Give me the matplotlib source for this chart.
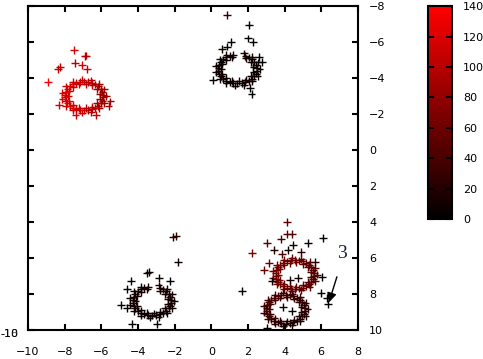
import matplotlib
matplotlib.use("Agg")
import matplotlib.pyplot as plt
from matplotlib.colors import LinearSegmentedColormap, Normalize

# red ring (upper left) + stray points
red_x = [-5.73, -6.07, -5.84, -6.22, -6.13, -6.49, -6.57, -6.85, -7.07, -7.22,
         -7.54, -7.54, -7.92, -7.76, -8.12, -7.83, -8.12, -7.76, -7.92, -7.54,
         -7.54, -7.22, -7.07, -6.85, -6.57, -6.49, -6.13, -6.22, -5.84, -6.07,
         -5.90, -5.94, -6.03, -6.16, -6.32, -6.51, -6.72, -6.94, -7.16, -7.37,
         -7.56, -7.72, -7.85, -7.94, -7.98, -7.98, -7.94, -7.85, -7.72, -7.56,
         -7.37, -7.16, -6.94, -6.72, -6.51, -6.32, -6.16, -6.03, -5.94, -5.90,
         -7.49, -6.89, -6.84, -7.44, -7.05, -6.78, -8.36, -8.25, -8.91,
         -5.50, -5.60, -7.40, -6.30, -8.30]
red_y = [-3.00, -2.86, -2.63, -2.60, -2.32, -2.41, -2.13, -2.32, -2.08, -2.35,
         -2.20, -2.49, -2.46, -2.72, -2.81, -3.00, -3.19, -3.28, -3.54, -3.51,
         -3.80, -3.65, -3.92, -3.68, -3.87, -3.59, -3.68, -3.40, -3.37, -3.14,
         -2.92, -2.75, -2.60, -2.46, -2.35, -2.27, -2.22, -2.20, -2.22, -2.27,
         -2.35, -2.46, -2.60, -2.75, -2.92, -3.08, -3.25, -3.40, -3.54, -3.65,
         -3.73, -3.78, -3.80, -3.78, -3.73, -3.65, -3.54, -3.40, -3.25, -3.08,
         -5.56, -5.22, -5.25, -4.83, -4.72, -4.50, -4.50, -4.60, -3.78,
         -2.70, -2.45, -1.95, -1.95, -2.50]
red_c = [85, 85, 85, 90, 90, 100, 100, 100, 110, 110,
         110, 118, 118, 118, 118, 118, 118, 118, 118, 118,
         112, 112, 112, 105, 105, 105, 92, 92, 85, 85,
         85, 85, 90, 90, 100, 100, 100, 110, 110, 110,
         118, 118, 118, 118, 118, 118, 118, 118, 118, 112,
         112, 112, 105, 105, 105, 92, 92, 85, 85, 85,
         120, 95, 100, 100, 115, 105, 110, 100, 140,
         85, 88, 115, 105, 120]

# top ring (black)
top_x = [2.64, 2.30, 2.53, 2.15, 2.24, 1.88, 1.80, 1.52, 1.30, 1.15,
         0.83, 0.83, 0.45, 0.61, 0.25, 0.54, 0.25, 0.61, 0.45, 0.83,
         0.83, 1.15, 1.80, 1.88, 2.24, 2.15, 2.53, 2.30,
         2.47, 2.43, 2.34, 2.21, 2.05, 1.86, 1.65, 1.43, 1.21, 1.00,
         0.81, 0.65, 0.52, 0.43, 0.39, 0.39, 0.43, 0.52, 0.65, 0.81,
         1.00, 1.21, 1.86, 2.05, 2.21, 2.34, 2.43, 2.47,
         0.86, 2.06, 1.07, 2.00, 2.27, 2.77, 2.60, 0.10, 2.20, 2.10, 0.60, 0.85]
top_y = [-4.50, -4.36, -4.13, -4.10, -3.82, -3.91, -3.63, -3.82, -3.58, -3.85,
         -3.70, -3.99, -3.96, -4.22, -4.31, -4.50, -4.69, -4.78, -5.04, -5.01,
         -5.30, -5.15, -5.37, -5.09, -5.18, -4.90, -4.87, -4.64,
         -4.42, -4.25, -4.10, -3.96, -3.85, -3.77, -3.72, -3.70, -3.72, -3.77,
         -3.85, -3.96, -4.10, -4.25, -4.42, -4.58, -4.75, -4.90, -5.04, -5.15,
         -5.23, -5.28, -5.23, -5.15, -5.04, -4.90, -4.75, -4.58,
         -7.50, -6.94, -6.00, -6.20, -6.00, -4.90, -5.17, -3.90, -3.10, -3.44, -5.60, -5.75]
top_c = [5, 5, 5, 8, 8, 10, 10, 8, 8, 5,
         5, 5, 8, 10, 10, 10, 8, 8, 5, 5,
         10, 10, 15, 12, 10, 8, 5, 5,
         5, 5, 8, 8, 10, 10, 8, 8, 5, 5,
         5, 8, 10, 10, 10, 8, 8, 5, 5, 10,
         10, 12, 15, 12, 10, 8, 5, 5,
         30, 0, 0, 0, 0, 0, 0, 0, 0, 0, 5, 5]

# lower left ring (black)
bl_x = [-2.03, -2.37, -2.14, -2.52, -2.43, -2.79, -2.87, -3.15, -3.37, -3.52,
        -3.84, -3.84, -4.22, -4.06, -4.42, -4.13, -4.42, -4.06, -4.22, -3.84,
        -3.84, -3.52, -2.87, -2.79, -2.43, -2.52, -2.14, -2.37,
        -2.20, -2.24, -2.33, -2.46, -2.62, -2.81, -3.02, -3.24, -3.46, -3.67,
        -3.86, -4.02, -4.15, -4.24, -4.28, -4.28, -4.24, -4.15, -4.02, -3.86,
        -3.67, -3.46, -2.81, -2.62, -2.46, -2.33, -2.24, -2.20,
        -2.09, -1.93, -1.82, -3.40, -3.50, -4.38, -4.60, -2.25, -4.93, -4.60,
        -4.33, -2.96, -2.85]
bl_y = [8.40, 8.54, 8.77, 8.80, 9.08, 8.99, 9.27, 9.08, 9.32, 9.05,
        9.20, 8.91, 8.94, 8.68, 8.59, 8.40, 8.21, 8.12, 7.86, 7.89,
        7.60, 7.75, 7.53, 7.81, 7.72, 8.00, 8.03, 8.26,
        8.48, 8.65, 8.80, 8.94, 9.05, 9.13, 9.18, 9.20, 9.18, 9.13,
        9.05, 8.94, 8.80, 8.65, 8.48, 8.32, 8.15, 8.00, 7.86, 7.75,
        7.67, 7.62, 7.67, 7.75, 7.86, 8.00, 8.15, 8.32,
        4.83, 4.78, 6.22, 6.78, 6.83, 7.28, 7.72, 7.28, 8.60, 8.78,
        9.67, 9.67, 7.10]
bl_c = [12, 12, 10, 10, 8, 8, 8, 8, 8, 8,
        8, 8, 8, 10, 10, 10, 10, 12, 12, 12,
        12, 12, 15, 15, 15, 15, 12, 12,
        12, 12, 10, 10, 8, 8, 8, 8, 8, 8,
        8, 8, 10, 10, 10, 10, 12, 12, 12, 12,
        12, 12, 15, 15, 15, 15, 12, 12,
        25, 25, 5, 5, 5, 0, 0, 0, 0, 0,
        0, 0, 10]

# upper ring of the lower right pair (dark red)
ur_x = [5.76, 5.42, 5.65, 5.27, 5.36, 5.00, 4.92, 4.64, 4.42, 4.27,
        3.95, 3.95, 3.57, 3.73, 3.37, 3.66, 3.37, 3.73, 3.57, 3.95,
        3.95, 4.27, 4.42, 4.64, 4.92, 5.00, 5.36, 5.27, 5.65, 5.42,
        5.59, 5.55, 5.46, 5.33, 5.17, 4.98, 4.77, 4.55, 4.33, 4.12,
        3.93, 3.77, 3.64, 3.55, 3.51, 3.51, 3.55, 3.64, 3.77, 3.93,
        4.12, 4.33, 4.55, 4.77, 4.98, 5.17, 5.33, 5.46, 5.55, 5.59]
ur_y = [6.92, 7.06, 7.29, 7.32, 7.60, 7.51, 7.79, 7.60, 7.84, 7.57,
        7.72, 7.43, 7.46, 7.20, 7.11, 6.92, 6.73, 6.64, 6.38, 6.41,
        6.12, 6.27, 6.00, 6.24, 6.05, 6.33, 6.24, 6.52, 6.55, 6.78,
        7.00, 7.17, 7.32, 7.46, 7.57, 7.65, 7.70, 7.72, 7.70, 7.65,
        7.57, 7.46, 7.32, 7.17, 7.00, 6.84, 6.67, 6.52, 6.38, 6.27,
        6.19, 6.14, 6.12, 6.14, 6.19, 6.27, 6.38, 6.52, 6.67, 6.84]
ur_c = [45, 45, 48, 50, 52, 55, 55, 58, 58, 60,
        60, 62, 62, 65, 65, 65, 65, 65, 62, 62,
        60, 60, 60, 58, 55, 55, 52, 50, 48, 45,
        45, 45, 48, 50, 52, 55, 55, 58, 58, 60,
        60, 62, 62, 65, 65, 65, 65, 65, 62, 62,
        60, 60, 60, 58, 55, 55, 52, 50, 48, 45]

# lower ring of the lower right pair
lr_x = [5.26, 4.92, 5.15, 4.77, 4.86, 4.50, 4.42, 4.14, 3.92, 3.77,
        3.45, 3.45, 3.07, 3.23, 2.87, 3.16, 2.87, 3.23, 3.07, 3.45,
        3.45, 3.77, 3.92, 4.14, 4.42, 4.50, 4.86, 4.77, 5.15, 4.92,
        5.09, 5.05, 4.96, 4.83, 4.67, 4.48, 4.27, 4.05, 3.83, 3.62,
        3.43, 3.27, 3.14, 3.05, 3.01, 3.01, 3.05, 3.14, 3.27, 3.43,
        3.62, 3.83, 4.05, 4.27, 4.48, 4.67, 4.83, 4.96, 5.05, 5.09]
lr_y = [8.85, 8.99, 9.22, 9.25, 9.53, 9.44, 9.72, 9.53, 9.77, 9.50,
        9.65, 9.36, 9.39, 9.13, 9.04, 8.85, 8.66, 8.57, 8.31, 8.34,
        8.05, 8.20, 7.93, 8.17, 7.98, 8.26, 8.17, 8.45, 8.48, 8.71,
        8.93, 9.10, 9.25, 9.39, 9.50, 9.58, 9.63, 9.65, 9.63, 9.58,
        9.50, 9.39, 9.25, 9.10, 8.93, 8.77, 8.60, 8.45, 8.31, 8.20,
        8.12, 8.07, 8.05, 8.07, 8.12, 8.20, 8.31, 8.45, 8.60, 8.77]
lr_c = [25, 25, 22, 20, 18, 18, 18, 20, 20, 22,
        25, 28, 30, 32, 35, 35, 35, 35, 38, 38,
        40, 40, 38, 35, 35, 32, 30, 28, 25, 25,
        25, 22, 20, 18, 18, 18, 20, 20, 22, 25,
        28, 30, 32, 35, 35, 35, 35, 38, 38, 40,
        40, 38, 35, 35, 32, 30, 28, 25, 25, 25]

# stray points around the lower right pair
br_x = [4.13, 4.13, 4.40, 6.09, 3.04, 3.80, 5.28, 4.46, 3.42, 4.18,
        4.89, 2.22, 3.86, 3.15, 2.87, 5.66, 6.04, 4.73, 4.29, 3.31,
        1.67, 5.98, 6.31, 6.37, 3.91, 4.40, 3.04]
br_y = [4.00, 4.67, 4.67, 4.89, 5.17, 4.94, 5.17, 5.28, 5.56, 5.56,
        5.67, 5.72, 5.78, 6.28, 6.67, 6.22, 7.06, 7.11, 7.22, 7.28,
        7.83, 7.94, 8.22, 8.56, 8.72, 8.94, 9.89]
br_c = [50, 45, 45, 0, 50, 40, 0, 10, 20, 10,
        30, 70, 40, 55, 60, 20, 0, 10, 10, 5,
        5, 0, 0, 0, 0, 5, 0]

xticks = [-10, -8, -6, -4, -2, 0, 2, 4, 6, 8]
yticks = [-8, -6, -4, -2, 0, 2, 4, 6, 8, 10]
cticks = [0, 20, 40, 60, 80, 100, 120, 140]

cmap = LinearSegmentedColormap.from_list("blackred", ["#000000", "#ff0000"])
norm = Normalize(0, 140)

fig = plt.figure(figsize=(4.83, 3.59), dpi=100)
ax = fig.add_axes([0.058, 0.081, 0.683, 0.902])

for xs, ys, cs in [(ur_x, ur_y, ur_c), (lr_x, lr_y, lr_c), (br_x, br_y, br_c),
                   (bl_x, bl_y, bl_c), (top_x, top_y, top_c), (red_x, red_y, red_c)]:
    ax.scatter(xs, ys, c=cs, cmap=cmap, norm=norm, marker='+', s=30, linewidths=1.0)

ax.set_xlim(-10, 8)
ax.set_ylim(10, -8)
ax.set_xticks(xticks)
ax.set_yticks(yticks)
ax.yaxis.tick_right()
ax.tick_params(direction='in', length=4, width=1.5, labelsize=8, top=True, left=True,
               right=True, bottom=True, labelleft=False, labelright=True)
ax.tick_params(axis='x', pad=12)
ax.tick_params(axis='y', pad=8)
for s in ax.spines.values():
    s.set_linewidth(1.5)

# label "3" with arrow
ax.annotate('', xy=(6.37, 8.62), xytext=(6.9, 6.9),
            arrowprops=dict(arrowstyle='-|>', color='black', lw=1, mutation_scale=14))
ax.text(7.13, 6.0, '3', fontsize=14, family='Liberation Serif', color='#14203a',
        ha='center', va='baseline')

# overlapping stray labels at lower left
fig.text(0.0, 0.062, '-10', fontsize=8)
fig.text(0.0, 0.062, '-18', fontsize=8, alpha=0.6)

cax = fig.add_axes([0.886, 0.39, 0.0497, 0.593])
sm = plt.cm.ScalarMappable(norm=norm, cmap=cmap)
cb = fig.colorbar(sm, cax=cax, ticks=cticks)
cb.outline.set_linewidth(1.5)
cax.tick_params(direction='in', length=4, width=1.5, labelsize=8, left=True, right=True, pad=8)

fig.savefig('out.png', dpi=100)
